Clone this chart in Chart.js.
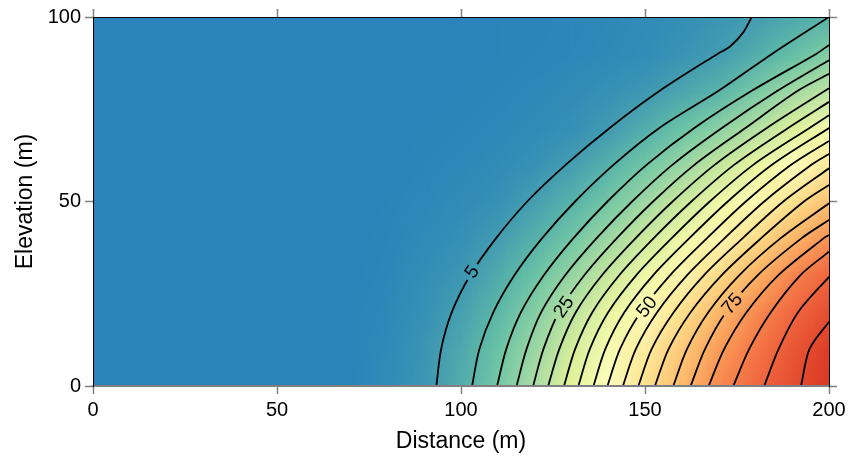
<!DOCTYPE html>
<html>
<head>
<meta charset="utf-8">
<script src="https://cdn.jsdelivr.net/npm/chart.js@4.4.1/dist/chart.umd.min.js"></script>
<style>
  html, body { margin: 0; background: #fff; }
  #wrap { width: 850px; height: 465px; }
</style>
</head>
<body>
<div id="wrap"><canvas id="plot"></canvas></div>
<script>
// contour levels drawn as black lines
const levels = [5, 10, 15, 20, 25, 30, 35, 40, 45, 50, 55, 60, 65, 70, 75, 80, 85, 90, 95];

// distance (m) where each contour crosses a given elevation, one row per elevation
const rowElev = [0, 10, 20, 30, 40, 50, 60, 70, 80, 90];
const crossX = [
  [93.3, 103, 109.8, 115.1, 119.6, 123.7, 128, 131.9, 136, 139.8, 144, 148.2, 152.7, 157.7, 162.4, 167.3, 174, 182.4, 192.4],
  [94.6, 105, 112.3, 117.8, 122.4, 126.7, 131, 135, 139.2, 143.2, 147.5, 151.8, 156.4, 161.4, 166.3, 171.5, 178.3, 186.3, 194.7],
  [97.5, 108.8, 116.3, 121.8, 126.6, 131.2, 135.7, 140, 144.4, 148.8, 153.3, 157.8, 162.4, 167.2, 172, 177.6, 184.2, 191.6, null],
  [102.5, 114.5, 122.5, 128.3, 133.5, 138.3, 143, 147.6, 152.2, 156.8, 161.4, 166, 170.8, 175.6, 180.6, 186.2, 192.2, null, null],
  [109.5, 122, 130.5, 136.8, 142.3, 147.4, 152.3, 157.2, 162, 166.8, 171.6, 176.5, 181.5, 186.8, 192.5, 198.5, null, null, null],
  [118, 131, 139.8, 146.5, 152.2, 157.5, 162.6, 167.6, 172.5, 177.4, 182.4, 187.6, 193.2, null, null, null, null, null, null],
  [128.5, 141.5, 150.5, 157.5, 163.5, 169, 174.3, 179.5, 184.6, 189.8, 195.3, null, null, null, null, null, null, null, null],
  [140.5, 154, 163.5, 171, 177.4, 183.2, 189, 194.8, null, null, null, null, null, null, null, null, null, null, null],
  [154, 170, 179, 186, 191.5, null, null, null, null, null, null, null, null, null, null, null, null, null, null],
  [169.7, 184.5, 196.5, null, null, null, null, null, null, null, null, null, null, null, null, null, null, null, null]
];
// where each contour leaves the plot (top edge for 5, right edge for the rest)
const edgePts = [
  [[173.1, 92], [176.6, 95.7], [179, 100]],
  [[200, 100]], [[200, 92.4]], [[200, 88.3]], [[200, 84.6]], [[200, 80.7]],
  [[200, 77]], [[200, 73.4]], [[200, 69.9]], [[200, 66.4]], [[200, 62.9]],
  [[200, 59]], [[200, 54.5]], [[200, 49.5]], [[200, 45]], [[200, 40.9]],
  [[200, 36.4]], [[200, 29.6]], [[200, 17.4]]
];

// inline contour labels
const labelLevels = [5, 25, 50, 75];
const labelX = [102.9, 127.8, 150.4, 173.6];
const labelY = [31, 21.5, 21.5, 22.4];

// field values behind the contours, on a 10 m grid
const gridX = [0, 10, 20, 30, 40, 50, 60, 70, 80, 90, 100, 110, 120, 130, 140, 150, 160, 170, 180, 190, 200];
const gridY = [0, 10, 20, 30, 40, 50, 60, 70, 80, 90, 100];
const field = [
  [0, 0, 0, 0, 0, 0, 0, 0.3, 1.5, 4, 8.5, 15.2, 25.5, 37.6, 50.2, 62, 72.4, 82, 88.6, 93.8, 98.5],
  [0, 0, 0, 0, 0, 0, 0, 0.3, 1.3, 3.5, 7.6, 13.4, 22.4, 33.8, 46, 57.9, 68.6, 78.6, 86, 92.2, 97.5],
  [0, 0, 0, 0, 0, 0, 0, 0.2, 1, 2.8, 6, 10.8, 18.3, 28.7, 40, 51.4, 62.4, 72.9, 81.9, 88.9, 94],
  [0, 0, 0, 0, 0, 0, 0, 0.1, 0.7, 2.2, 4, 8.1, 13.4, 21.6, 31.8, 42.6, 53.5, 64.2, 74.3, 83.2, 89.6],
  [0, 0, 0, 0, 0, 0, 0, 0, 0.4, 1.4, 2.6, 5.2, 9.4, 14.7, 22.9, 32.7, 42.9, 53.3, 63.5, 72.8, 81],
  [0, 0, 0, 0, 0, 0, 0, 0, 0.2, 0.8, 1.6, 2.8, 5.8, 9.6, 15.1, 23.1, 32.5, 42.4, 52.6, 62.1, 70.5],
  [0, 0, 0, 0, 0, 0, 0, 0, 0, 0.5, 0.9, 1.6, 2.9, 5.6, 9.4, 14.7, 22.1, 30.9, 40.5, 50.2, 59],
  [0, 0, 0, 0, 0, 0, 0, 0, 0, 0.2, 0.5, 0.8, 1.5, 2.5, 4.8, 8.5, 13.2, 19.3, 27.2, 35.9, 45],
  [0, 0, 0, 0, 0, 0, 0, 0, 0, 0, 0.3, 0.5, 0.9, 1.6, 2.8, 4.1, 6.9, 10, 15.7, 23.6, 29.5],
  [0, 0, 0, 0, 0, 0, 0, 0, 0, 0, 0, 0.2, 0.4, 0.7, 1.2, 2, 3.3, 5.1, 8.5, 12.2, 18],
  [0, 0, 0, 0, 0, 0, 0, 0, 0, 0, 0, 0.2, 0.3, 0.6, 1, 1.5, 2.2, 3.5, 5.2, 7.6, 10]
];

// colour ramp, low to high
const palette = ['#2b83ba', '#66c2a5', '#abdda4', '#e6f598', '#ffffbf', '#fee08b', '#fdae61', '#f46d43', '#d7301f'];
const fieldMax = 100;

Chart.defaults.font.family = "'Liberation Sans', Arial, Helvetica, sans-serif";
Chart.defaults.color = '#000';

function hexRgb(h) {
  return [1, 3, 5].map(i => parseInt(h.slice(i, i + 2), 16));
}
const rgbStops = palette.map(hexRgb);
function colorFor(v) {
  const t = Math.max(0, Math.min(1, v / fieldMax)) * (rgbStops.length - 1);
  const i = Math.min(rgbStops.length - 2, Math.floor(t));
  const f = t - i;
  const a = rgbStops[i], b = rgbStops[i + 1];
  return [0, 1, 2].map(c => Math.round(a[c] + (b[c] - a[c]) * f));
}

function contourPoints(k) {
  const pts = [];
  rowElev.forEach((e, j) => {
    if (crossX[j][k] != null) pts.push({ x: crossX[j][k], y: e });
  });
  edgePts[k].forEach(p => pts.push({ x: p[0], y: p[1] }));
  return pts;
}

const datasets = levels.map((lev, k) => ({
  label: String(lev),
  data: contourPoints(k),
  showLine: true,
  borderColor: '#000',
  borderWidth: 1.8,
  pointRadius: 0,
  tension: 0.3,
  fill: false
}));

let heatImg = null;
function buildHeat() {
  const c = document.createElement('canvas');
  c.width = gridX.length;
  c.height = gridY.length;
  const g = c.getContext('2d');
  const img = g.createImageData(c.width, c.height);
  for (let r = 0; r < gridY.length; r++) {
    const row = field[gridY.length - 1 - r]; // image row 0 is the top
    for (let i = 0; i < gridX.length; i++) {
      const [R, G, B] = colorFor(row[i]);
      const o = (r * c.width + i) * 4;
      img.data[o] = R; img.data[o + 1] = G; img.data[o + 2] = B; img.data[o + 3] = 255;
    }
  }
  g.putImageData(img, 0, 0);
  return c;
}

const labelFont = "19px 'Liberation Sans', Arial, sans-serif";
function labelGeometry(chart) {
  const xs = chart.scales.x, ys = chart.scales.y;
  const ctx = chart.ctx;
  ctx.save();
  ctx.font = labelFont;
  const out = labelLevels.map((lev, n) => {
    const k = levels.indexOf(lev);
    const pts = chart.data.datasets[k].data;
    let j = 0;
    while (j < pts.length - 2 && pts[j + 1].y < labelY[n]) j++;
    const dx = xs.getPixelForValue(pts[j + 1].x) - xs.getPixelForValue(pts[j].x);
    const dy = ys.getPixelForValue(pts[j + 1].y) - ys.getPixelForValue(pts[j].y);
    return {
      k,
      text: String(lev),
      px: xs.getPixelForValue(labelX[n]),
      py: ys.getPixelForValue(labelY[n]),
      ang: Math.atan2(dy, dx),
      w: ctx.measureText(String(lev)).width
    };
  });
  ctx.restore();
  return out;
}

const contourPlugin = {
  id: 'contourField',
  beforeDatasetsDraw(chart) {
    const { ctx, chartArea: a, scales: { x, y } } = chart;
    if (!heatImg) heatImg = buildHeat();
    const hx = (gridX[1] - gridX[0]) / 2, hy = (gridY[1] - gridY[0]) / 2;
    const x0 = x.getPixelForValue(gridX[0] - hx);
    const x1 = x.getPixelForValue(gridX[gridX.length - 1] + hx);
    const yt = y.getPixelForValue(gridY[gridY.length - 1] + hy);
    const yb = y.getPixelForValue(gridY[0] - hy);
    ctx.save();
    ctx.beginPath();
    ctx.rect(a.left, a.top, a.right - a.left, a.bottom - a.top);
    ctx.clip();
    ctx.imageSmoothingEnabled = true;
    ctx.imageSmoothingQuality = 'low';
    ctx.drawImage(heatImg, x0, yt, x1 - x0, yb - yt);
    ctx.restore();
    this._labels = labelGeometry(chart);
  },
  beforeDatasetDraw(chart, args) {
    const g = (this._labels || []).find(l => l.k === args.index);
    if (!g) return;
    const ctx = chart.ctx;
    ctx.save();
    ctx.beginPath();
    ctx.rect(0, 0, chart.width, chart.height);
    const c = Math.cos(g.ang), s = Math.sin(g.ang);
    const hw = g.w / 2 + 4, hh = 8;
    const corners = [[-hw, -hh], [hw, -hh], [hw, hh], [-hw, hh]]
      .map(([u, v]) => [g.px + u * c - v * s, g.py + u * s + v * c]);
    ctx.moveTo(corners[0][0], corners[0][1]);
    corners.slice(1).forEach(p => ctx.lineTo(p[0], p[1]));
    ctx.closePath();
    ctx.clip('evenodd');
    g.clipped = true;
  },
  afterDatasetDraw(chart, args) {
    const g = (this._labels || []).find(l => l.k === args.index);
    if (g && g.clipped) { chart.ctx.restore(); g.clipped = false; }
  },
  afterDatasetsDraw(chart) {
    const ctx = chart.ctx;
    (this._labels || []).forEach(g => {
      ctx.save();
      ctx.translate(g.px, g.py);
      ctx.rotate(g.ang);
      ctx.font = labelFont;
      ctx.fillStyle = '#000';
      ctx.textAlign = 'center';
      ctx.textBaseline = 'middle';
      ctx.fillText(g.text, 0, 1);
      ctx.restore();
    });
  }
};

const tickGrey = '#808080';
function axisGrid() {
  return { drawOnChartArea: false, drawTicks: true, tickLength: 8, tickColor: tickGrey, tickWidth: 1.5 };
}

new Chart(document.getElementById('plot'), {
  type: 'scatter',
  data: { datasets },
  options: {
    responsive: true,
    maintainAspectRatio: false,
    animation: false,
    layout: { padding: 0 },
    plugins: { legend: { display: false }, tooltip: { enabled: false } },
    scales: {
      x: {
        type: 'linear', position: 'bottom', min: 0, max: 200,
        ticks: { stepSize: 50, font: { size: 20 }, padding: 4, color: '#000', maxRotation: 0 },
        grid: axisGrid(),
        border: { display: true, color: tickGrey, width: 2, z: 1 },
        title: { display: true, text: 'Distance (m)', font: { size: 23 }, color: '#000', padding: { top: 0, bottom: 10 } },
        afterFit(s) { s.height = 79; }
      },
      x2: {
        type: 'linear', position: 'top', min: 0, max: 200,
        ticks: { stepSize: 50, display: false },
        grid: axisGrid(),
        border: { display: true, color: '#000', width: 1, z: 1 },
        afterFit(s) { s.height = 17; }
      },
      y: {
        type: 'linear', position: 'left', min: 0, max: 100,
        ticks: { stepSize: 50, font: { size: 20 }, padding: 4, color: '#000' },
        grid: axisGrid(),
        border: { display: true, color: '#000', width: 1, z: 1 },
        title: { display: true, text: 'Elevation (m)', font: { size: 23 }, color: '#000', padding: { top: 12, bottom: 0 } },
        afterFit(s) { s.width = 93; }
      },
      y2: {
        type: 'linear', position: 'right', min: 0, max: 100,
        ticks: { stepSize: 50, display: false },
        grid: axisGrid(),
        border: { display: true, color: '#000', width: 1, z: 1 },
        afterFit(s) { s.width = 21; }
      }
    }
  },
  plugins: [contourPlugin]
});
</script>
</body>
</html>
